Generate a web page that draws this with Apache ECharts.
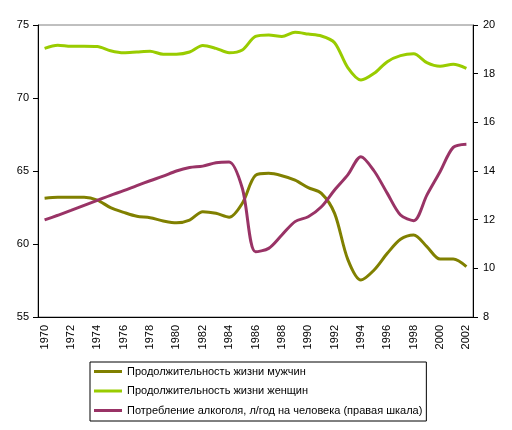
<!DOCTYPE html>
<html>
<head>
<meta charset="utf-8">
<script src="https://cdn.jsdelivr.net/npm/echarts@6/dist/echarts.min.js"></script>
<style>html,body{margin:0;padding:0;background:#fff;}#c{width:512px;height:430px;}</style>
</head>
<body>
<div id="c"></div>
<script>
var years = ['1970','1971','1972','1973','1974','1975','1976','1977','1978','1979','1980','1981','1982','1983','1984','1985','1986','1987','1988','1989','1990','1991','1992','1993','1994','1995','1996','1997','1998','1999','2000','2001','2002'];
var men = [63.13,63.2,63.2,63.2,63.01,62.49,62.17,61.9,61.8,61.58,61.45,61.64,62.21,62.1,61.83,62.79,64.7,64.84,64.68,64.38,63.86,63.47,62.1,58.95,57.53,58.22,59.36,60.32,60.62,59.82,58.97,58.97,58.45];
var women = [73.4,73.61,73.54,73.54,73.52,73.24,73.1,73.15,73.2,73.0,73.0,73.15,73.6,73.4,73.1,73.29,74.22,74.32,74.22,74.5,74.38,74.25,73.79,72.08,71.23,71.69,72.49,72.9,73.03,72.42,72.17,72.31,72.03];
var alcohol = [11.99,12.18,12.38,12.59,12.79,13.0,13.19,13.4,13.6,13.79,14.0,14.14,14.2,14.34,14.37,13.29,10.68,10.82,11.37,11.92,12.12,12.53,13.22,13.84,14.59,14.0,13.08,12.19,11.96,13.01,13.97,14.97,15.1];
var names = ['Продолжительность жизни мужчин','Продолжительность жизни женщин','Потребление алкоголя, л/год на человека (правая шкала)'];
var colors = ['#808000','#99CC00','#993366'];

var chart = echarts.init(document.getElementById('c'));
var font = {fontFamily:'Liberation Sans, Arial, sans-serif', fontSize:11, color:'#000'};
chart.setOption({
  animation:false,
  color: colors,
  grid:{left:38,right:39,top:25,bottom:113,show:true,borderColor:'#808080',borderWidth:1,backgroundColor:'#fff'},
  legend:{
    orient:'vertical', left:90, top:362,
    borderColor:'#000', borderWidth:1, padding:[3,4,4,4],
    itemWidth:28, itemHeight:3, itemGap:6.5, itemTextGap:1, icon:'rect',
    textStyle:{fontFamily:'Liberation Sans, Arial, sans-serif', fontSize:11, color:'#000', lineHeight:13},
    data:names
  },
  xAxis:{
    type:'category', data:years, boundaryGap:true,
    axisLine:{lineStyle:{color:'#000',width:1}},
    axisTick:{interval:0,length:4,lineStyle:{color:'#000'}},
    axisLabel:Object.assign({interval:1,rotate:90,margin:8},font),
    splitLine:{show:false}
  },
  yAxis:[
    {type:'value',min:55,max:75,interval:5,position:'left',
     axisLine:{show:true,lineStyle:{color:'#000'}},
     axisTick:{show:true,length:5,lineStyle:{color:'#000'}},
     axisLabel:Object.assign({margin:9},font),
     splitLine:{show:false}},
    {type:'value',min:8,max:20,interval:2,position:'right',
     axisLine:{show:true,lineStyle:{color:'#000'}},
     axisTick:{show:true,length:5,lineStyle:{color:'#000'}},
     axisLabel:Object.assign({margin:10},font),
     splitLine:{show:false}}
  ],
  series:[
    {name:names[0],type:'line',data:men,yAxisIndex:0,smooth:0.3,showSymbol:false,lineStyle:{width:3,color:colors[0]},itemStyle:{color:colors[0]}},
    {name:names[1],type:'line',data:women,yAxisIndex:0,smooth:0.3,showSymbol:false,lineStyle:{width:3,color:colors[1]},itemStyle:{color:colors[1]}},
    {name:names[2],type:'line',data:alcohol,yAxisIndex:1,smooth:0.3,showSymbol:false,lineStyle:{width:3,color:colors[2]},itemStyle:{color:colors[2]}}
  ]
});
</script>
</body>
</html>
